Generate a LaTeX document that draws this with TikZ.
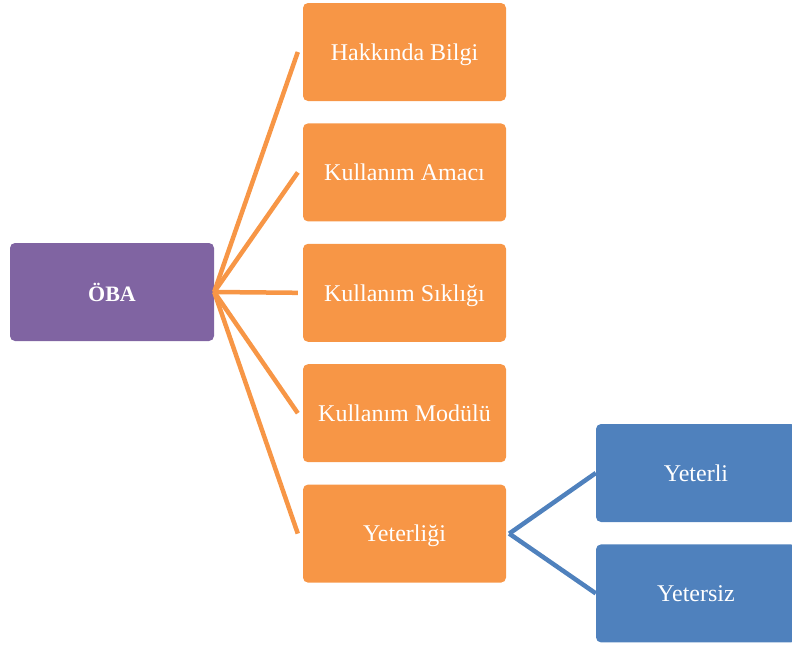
\documentclass[tikz,border=0pt]{standalone}
\usepackage{fontspec}
\setmainfont{Liberation Serif}
\usetikzlibrary{positioning}
\definecolor{obamor}{HTML}{8064A2}
\definecolor{obaturuncu}{HTML}{F79646}
\definecolor{obamavi}{HTML}{4F81BD}
\begin{document}
\begin{tikzpicture}[x=1pt,y=1pt]
\tikzstyle{kutu} = [rounded corners=5pt, minimum width=203pt, minimum height=98pt, inner sep=0pt, text depth=0pt, text=white, font=\fontsize{24}{28}\selectfont] % ortak kutu stili
\tikzstyle{ana} = [kutu, fill=obamor, minimum width=204pt, font=\bfseries\fontsize{22}{26}\selectfont] % kök düğüm
\tikzstyle{dal} = [kutu, fill=obaturuncu] % birinci seviye
\tikzstyle{yaprak} = [kutu, fill=obamavi, minimum width=200pt] % ikinci seviye
\tikzstyle{turuncuhat} = [draw=obaturuncu, line width=4.5pt] % turuncu bağlantı
\tikzstyle{mavihat} = [draw=obamavi, line width=4.5pt] % mavi bağlantı

\useasboundingbox (0,0) rectangle (792,-645);

\node[ana] (oba) at (112,-292) {ÖBA};
\node[dal] (bilgi) at (404.5,-52) {Hakkında Bilgi};
\node[dal, below=22pt of bilgi] (amac) {Kullanım Amacı};
\node[dal, below=22pt of amac] (siklik) {Kullanım Sıklığı};
\node[dal, below=22pt of siklik] (modul) {Kullanım Modülü};
\node[dal, below=22pt of modul] (yeterlik) {Yeterliği};
\node[yaprak] (yeterli) at (696,-473) {Yeterli};
\node[yaprak, below=22pt of yeterli] (yetersiz) {Yetersiz};

% kökten dallara
\foreach \d in {bilgi,amac,siklik,modul,yeterlik}
    \draw[turuncuhat] (oba.east) -- ([xshift=-5pt]\d.west);
% yeterlik alt dalları
\draw[mavihat] ([xshift=3pt]yeterlik.east) -- (yeterli.west);
\draw[mavihat] ([xshift=3pt]yeterlik.east) -- (yetersiz.west);
\end{tikzpicture}
\end{document}
